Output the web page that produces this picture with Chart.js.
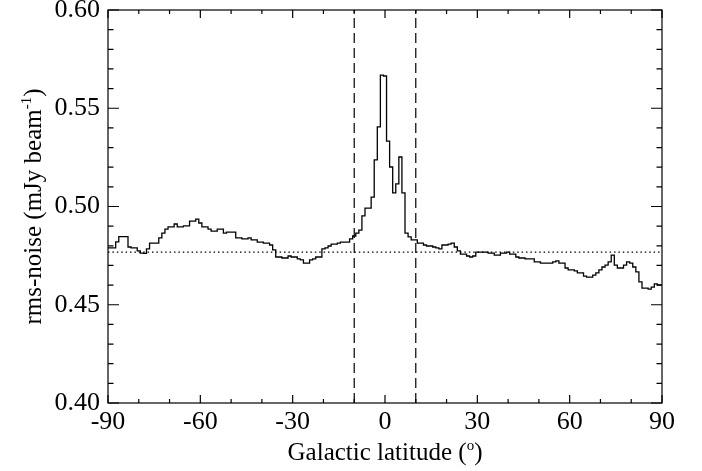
<!DOCTYPE html>
<html>
<head>
<meta charset="utf-8">
<script src="https://cdn.jsdelivr.net/npm/chart.js@4.4.1/dist/chart.umd.min.js"></script>
<style>
  html, body { margin: 0; padding: 0; background: #ffffff; }
  #wrap { width: 702px; height: 471px; }
</style>
</head>
<body>
<div id="wrap"><canvas id="c" width="702" height="471"></canvas></div>
<script>
// ---- data ----
// centre of each 1-degree latitude bin
const latitude = [
 -90,-89,-88,-87,-86,-85,-84,-83,-82,-81,-80,-79,-78,-77,-76,-75,-74,-73,-72,-71,
 -70,-69,-68,-67,-66,-65,-64,-63,-62,-61,-60,-59,-58,-57,-56,-55,-54,-53,-52,-51,
 -50,-49,-48,-47,-46,-45,-44,-43,-42,-41,-40,-39,-38,-37,-36,-35,-34,-33,-32,-31,
 -30,-29,-28,-27,-26,-25,-24,-23,-22,-21,-20,-19,-18,-17,-16,-15,-14,-13,-12,-11,
 -10,-9,-8,-7,-6,-5,-4,-3,-2,-1,0,1,2,3,4,5,6,7,8,9,
 10,11,12,13,14,15,16,17,18,19,20,21,22,23,24,25,26,27,28,29,
 30,31,32,33,34,35,36,37,38,39,40,41,42,43,44,45,46,47,48,49,
 50,51,52,53,54,55,56,57,58,59,60,61,62,63,64,65,66,67,68,69,
 70,71,72,73,74,75,76,77,78,79,80,81,82,83,84,85,86,87,88,89,
 90
];
const binWidth = 1;
// rms-noise per bin (mJy/beam)
const rmsNoise = [
 0.4789,0.4789,0.4789,0.4820,0.4847,0.4847,0.4847,0.4794,0.4789,0.4789,
 0.4774,0.4763,0.4761,0.4784,0.4814,0.4814,0.4814,0.4840,0.4865,0.4885,
 0.4896,0.4896,0.4911,0.4896,0.4896,0.4901,0.4901,0.4926,0.4926,0.4936,
 0.4916,0.4896,0.4896,0.4885,0.4875,0.4875,0.4885,0.4885,0.4865,0.4870,
 0.4870,0.4870,0.4840,0.4840,0.4835,0.4835,0.4840,0.4830,0.4830,0.4819,
 0.4819,0.4814,0.4814,0.4804,0.4779,0.4743,0.4743,0.4738,0.4738,0.4748,
 0.4743,0.4743,0.4733,0.4728,0.4712,0.4712,0.4728,0.4733,0.4743,0.4743,
 0.4784,0.4789,0.4799,0.4809,0.4809,0.4814,0.4819,0.4819,0.4819,0.4835,
 0.4850,0.4865,0.4880,0.4952,0.4992,0.4992,0.5048,0.5237,0.5405,0.5669,
 0.5664,0.5333,0.5201,0.5069,0.5115,0.5252,0.5069,0.4865,0.4845,0.4830,
 0.4830,0.4814,0.4814,0.4804,0.4799,0.4799,0.4794,0.4789,0.4784,0.4804,
 0.4804,0.4809,0.4814,0.4794,0.4774,0.4758,0.4758,0.4748,0.4743,0.4748,
 0.4768,0.4768,0.4768,0.4768,0.4763,0.4763,0.4753,0.4753,0.4763,0.4763,
 0.4768,0.4758,0.4758,0.4743,0.4738,0.4738,0.4733,0.4733,0.4733,0.4718,
 0.4718,0.4712,0.4712,0.4712,0.4712,0.4718,0.4723,0.4712,0.4712,0.4687,
 0.4677,0.4677,0.4672,0.4662,0.4662,0.4646,0.4641,0.4641,0.4651,0.4662,
 0.4677,0.4692,0.4702,0.4718,0.4753,0.4702,0.4687,0.4687,0.4702,0.4718,
 0.4712,0.4692,0.4667,0.4616,0.4585,0.4585,0.4580,0.4590,0.4606,0.4601,
 0.4601
];
const regionEdges = [-10, 10];          // dashed vertical lines
const meanNoise = 0.4768;               // dotted horizontal line
const xRange = [-90, 90];
const yRange = [0.40, 0.60];
const xMajorTicks = [-90, -60, -30, 0, 30, 60, 90];
const xMinorTicks = [-80, -70, -50, -40, -20, -10, 10, 20, 40, 50, 70, 80];
const yMajorTicks = [0.40, 0.45, 0.50, 0.55, 0.60];
const yMinorTicks = [0.41, 0.42, 0.43, 0.44, 0.46, 0.47, 0.48, 0.49, 0.51, 0.52, 0.53, 0.54, 0.56, 0.57, 0.58, 0.59];
const xTitle = [['Galactic latitude (', false], ['o', true], [')', false]];
const yTitle = [['rms-noise (mJy beam', false], ['-1', true], [')', false]];

// ---- build datasets ----
const FONT = '"Liberation Serif", "Times New Roman", serif';
// histogram steps: each value spans its bin from left edge to right edge
const stepPoints = latitude.map((c, i) => ({ x: c - binWidth / 2, y: rmsNoise[i] }));
stepPoints.push({ x: latitude[latitude.length - 1] + binWidth / 2, y: rmsNoise[rmsNoise.length - 1] });

const datasets = [{
  data: stepPoints,
  stepped: 'before',
  borderColor: '#000000',
  borderWidth: 1.3,
  pointRadius: 0,
  fill: false
}];
regionEdges.forEach(e => datasets.push({
  data: [{ x: e, y: yRange[0] }, { x: e, y: yRange[1] }],
  borderColor: '#000000', borderWidth: 1.2, borderDash: [10, 5], pointRadius: 0, fill: false
}));
datasets.push({
  data: [{ x: xRange[0], y: meanNoise }, { x: xRange[1], y: meanNoise }],
  borderColor: '#000000', borderWidth: 1.2, borderDash: [1.5, 2.9], pointRadius: 0, fill: false
});

function drawRich(ctx, parts, size, supSize, supRise) {
  let total = 0;
  parts.forEach(p => { ctx.font = (p[1] ? supSize : size) + 'px ' + FONT; total += ctx.measureText(p[0]).width; });
  let x = -total / 2;
  parts.forEach(p => {
    ctx.font = (p[1] ? supSize : size) + 'px ' + FONT;
    ctx.fillText(p[0], x, p[1] ? -supRise : 0);
    x += ctx.measureText(p[0]).width;
  });
}

const framePlugin = {
  id: 'frame',
  afterDatasetsDraw(chart) {
    const { ctx, chartArea: a, scales } = chart;
    const xs = scales.x, ys = scales.y;
    ctx.save();
    ctx.strokeStyle = '#000000';
    ctx.lineWidth = 1.2;
    ctx.strokeRect(a.left, a.top, a.right - a.left, a.bottom - a.top);
    ctx.beginPath();
    const xt = (v, len) => { const px = xs.getPixelForValue(v);
      ctx.moveTo(px, a.bottom); ctx.lineTo(px, a.bottom - len);
      ctx.moveTo(px, a.top); ctx.lineTo(px, a.top + len); };
    const yt = (v, len) => { const py = ys.getPixelForValue(v);
      ctx.moveTo(a.left, py); ctx.lineTo(a.left + len, py);
      ctx.moveTo(a.right, py); ctx.lineTo(a.right - len, py); };
    xMajorTicks.forEach(v => xt(v, 8));
    xMinorTicks.forEach(v => xt(v, 4));
    yMajorTicks.forEach(v => yt(v, 11));
    yMinorTicks.forEach(v => yt(v, 5.5));
    ctx.stroke();
    ctx.restore();
  },
  afterDraw(chart) {
    const { ctx, chartArea: a } = chart;
    ctx.save();
    ctx.fillStyle = '#000000';
    ctx.textBaseline = 'alphabetic';
    ctx.textAlign = 'left';
    ctx.translate((a.left + a.right) / 2, 460);
    drawRich(ctx, xTitle, 25, 15, 10);
    ctx.restore();
    ctx.save();
    ctx.fillStyle = '#000000';
    ctx.textBaseline = 'alphabetic';
    ctx.textAlign = 'left';
    ctx.translate(41, (a.top + a.bottom) / 2);
    ctx.rotate(-Math.PI / 2);
    drawRich(ctx, yTitle, 25, 15, 10);
    ctx.restore();
  }
};

new Chart(document.getElementById('c'), {
  type: 'line',
  data: { datasets: datasets },
  options: {
    responsive: false,
    animation: false,
    events: [],
    layout: { autoPadding: false, padding: { left: 0, top: 10, right: 40, bottom: 0 } },
    plugins: { legend: { display: false }, tooltip: { enabled: false }, title: { display: false } },
    scales: {
      x: {
        type: 'linear', min: xRange[0], max: xRange[1],
        grid: { display: false, drawTicks: false },
        border: { display: false },
        ticks: { stepSize: 30, color: '#000000', padding: 4, maxRotation: 0, autoSkip: false,
                 font: { family: FONT, size: 26 } },
        afterFit: s => { s.height = 68; s.paddingLeft = 0; s.paddingRight = 0; }
      },
      y: {
        type: 'linear', min: yRange[0], max: yRange[1],
        grid: { display: false, drawTicks: false },
        border: { display: false },
        ticks: { stepSize: 0.05, color: '#000000', padding: 8, autoSkip: false,
                 font: { family: FONT, size: 26 },
                 callback: v => Number(v).toFixed(2) },
        afterFit: s => { s.width = 108; s.paddingTop = 0; s.paddingBottom = 0; }
      }
    }
  },
  plugins: [framePlugin]
});
</script>
</body>
</html>
